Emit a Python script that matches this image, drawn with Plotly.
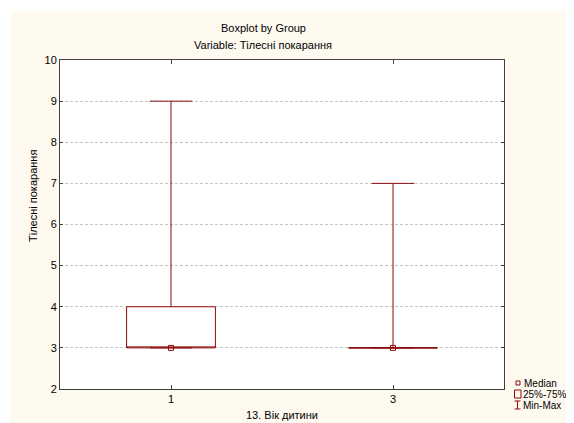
import plotly.graph_objects as go

# ---- data ----
groups = ["1", "3"]
mins = [3, 3]
q1s = [3, 3]
medians = [3, 3]
q3s = [4, 3]
maxs = [9, 7]
yticks = [2, 3, 4, 5, 6, 7, 8, 9, 10]

RED = "#8B0A0A"
CREAM = "#FFFAF0"
FONT = "Liberation Sans, Arial, sans-serif"

# the page has an 8px body margin, so the figure is drawn 8px smaller
OFF = 8
W, H = 574 - OFF, 423 - OFF
L, R, T, B = 60 - OFF, 70, 60 - OFF, 34
PW, PH = W - L - R, H - T - B
PLOT_BOTTOM = 389  # in reference pixels


def px(x):
    return (x - 60) / PW


def py(y):
    return (PLOT_BOTTOM - y) / PH


fig = go.Figure()
fig.add_trace(go.Box(
    x=groups, q1=q1s, median=medians, q3=q3s,
    lowerfence=mins, upperfence=maxs,
    width=0.4, whiskerwidth=0.48,
    fillcolor="rgba(0,0,0,0)",
    line=dict(color=RED, width=1),
    boxpoints=False, showlegend=False, hoverinfo="skip",
))
fig.add_trace(go.Scatter(
    x=groups, y=medians, mode="markers",
    marker=dict(symbol="square-open", size=5, color=RED, line=dict(width=1, color=RED)),
    showlegend=False, hoverinfo="skip",
))

shapes = [
    # white strips at left and top, the rest of the paper is cream
    dict(type="rect", xref="paper", yref="paper", x0=px(-20), x1=px(11), y0=py(440), y1=py(-20),
         fillcolor="white", line_width=0, layer="below"),
    dict(type="rect", xref="paper", yref="paper", x0=px(-20), x1=px(600), y0=py(11), y1=py(-20),
         fillcolor="white", line_width=0, layer="below"),
    # legend icons
    dict(type="rect", xref="paper", yref="paper", x0=px(516), x1=px(520), y0=py(385), y1=py(381),
         line=dict(color=RED, width=1), fillcolor="rgba(0,0,0,0)"),
    dict(type="rect", xref="paper", yref="paper", x0=px(514.5), x1=px(521), y0=py(398), y1=py(390),
         line=dict(color=RED, width=1), fillcolor="rgba(0,0,0,0)"),
    dict(type="line", xref="paper", yref="paper", x0=px(517.5), x1=px(517.5), y0=py(409), y1=py(401),
         line=dict(color=RED, width=1)),
    dict(type="line", xref="paper", yref="paper", x0=px(514.5), x1=px(520.5), y0=py(401), y1=py(401),
         line=dict(color=RED, width=1)),
    dict(type="line", xref="paper", yref="paper", x0=px(514.5), x1=px(520.5), y0=py(409), y1=py(409),
         line=dict(color=RED, width=1)),
]

ann_font = dict(family=FONT, size=11, color="#000000")
leg_font = dict(family=FONT, size=10, color="#000000")
annotations = [
    dict(text="Boxplot by Group", x=px(263), y=py(28), xref="paper", yref="paper",
         showarrow=False, xanchor="center", yanchor="middle", font=ann_font),
    dict(text="Variable: Тілесні покарання", x=px(263), y=py(45.5), xref="paper", yref="paper",
         showarrow=False, xanchor="center", yanchor="middle", font=ann_font),
    dict(text="Тілесні покарання", x=px(33), y=py(196), xref="paper", yref="paper",
         showarrow=False, textangle=-90, xanchor="center", yanchor="middle", font=ann_font),
    dict(text="13. Вік дитини", x=px(282), y=py(415), xref="paper", yref="paper",
         showarrow=False, xanchor="center", yanchor="middle", font=ann_font, borderpad=0),
    dict(text="Median", x=px(523), y=py(383), xref="paper", yref="paper",
         showarrow=False, xanchor="left", yanchor="middle", font=leg_font, borderpad=0),
    dict(text="25%-75%", x=px(522), y=py(394), xref="paper", yref="paper",
         showarrow=False, xanchor="left", yanchor="middle", font=leg_font, borderpad=0),
    dict(text="Min-Max", x=px(522), y=py(405), xref="paper", yref="paper",
         showarrow=False, xanchor="left", yanchor="middle", font=leg_font, borderpad=0),
]

fig.update_layout(
    width=W, height=H,
    margin=dict(l=L, r=R, t=T, b=B, pad=0),
    paper_bgcolor=CREAM, plot_bgcolor="white",
    font=dict(family=FONT, size=11, color="#000000"),
    showlegend=False,
    shapes=shapes, annotations=annotations,
    xaxis=dict(type="category", categoryorder="array", categoryarray=groups,
               range=[-0.5, 1.5], showgrid=False, zeroline=False,
               showline=True, linecolor="#404040", linewidth=1, mirror="ticks",
               ticks="inside", ticklen=4, tickcolor="#404040",
               tickfont=dict(family=FONT, size=11)),
    yaxis=dict(range=[2, 10], tickvals=yticks, ticktext=[str(v) for v in yticks],
               showgrid=True, gridcolor="#c4c4c4", griddash="3px,2px", gridwidth=1,
               zeroline=False, showline=True, linecolor="#404040", linewidth=1,
               mirror="ticks", ticks="inside", ticklen=3, tickcolor="#404040",
               tickfont=dict(family=FONT, size=11)),
)

fig.write_html("out.html")
